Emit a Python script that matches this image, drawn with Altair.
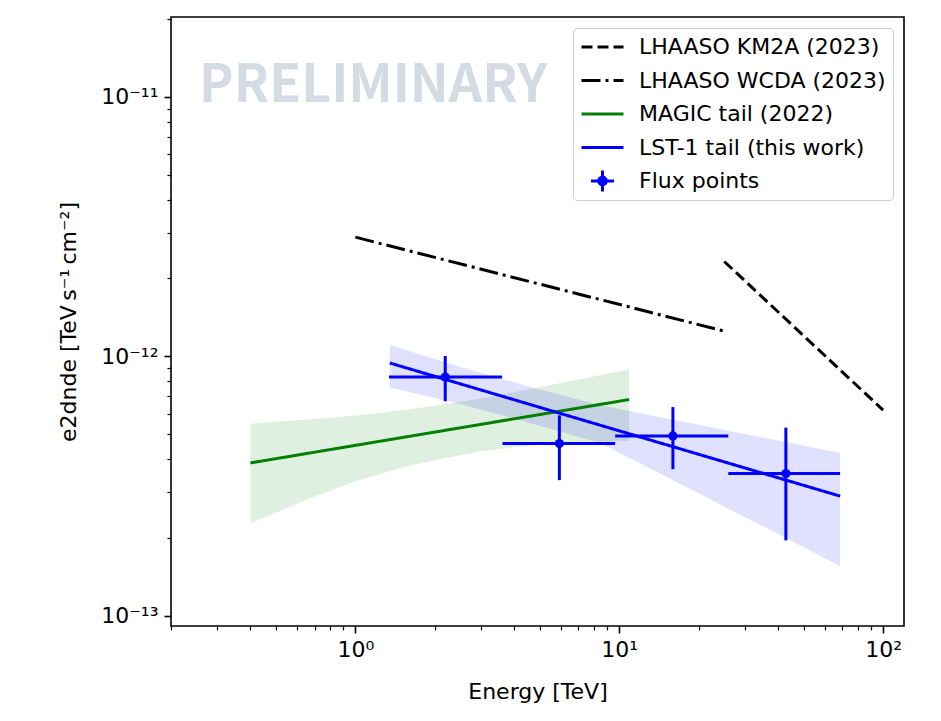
import altair as alt
import pandas as pd

# ---------------- data ----------------
series_names = ["LHAASO KM2A (2023)", "LHAASO WCDA (2023)", "MAGIC tail (2022)",
                "LST-1 tail (this work)", "Flux points"]
series_colors = ["black", "black", "green", "blue", "blue"]

km2a_E = [25.0, 100.0]
km2a_F = [2.32e-12, 6.2e-13]
wcda_E = [1.0, 25.0]
wcda_F = [2.88e-12, 1.25e-12]
magic_E = [0.4, 10.9]
magic_F = [3.88e-13, 6.81e-13]
lst_E = [1.35, 68.7]
lst_F = [9.42e-13, 2.89e-13]

magic_band_E = [0.4, 0.7, 1.0, 1.5, 2.0, 3.0, 4.5, 7.0, 10.9]
magic_band_hi = [5.50e-13, 5.73e-13, 5.91e-13, 6.20e-13, 6.45e-13, 6.88e-13, 7.44e-13, 8.13e-13, 8.89e-13]
magic_band_lo = [2.27e-13, 2.88e-13, 3.30e-13, 3.72e-13, 3.97e-13, 4.30e-13, 4.52e-13, 4.67e-13, 4.71e-13]

lst_band_E = [1.35, 2.5, 4.5, 8.5, 15.0, 27.0, 45.0, 68.7]
lst_band_hi = [1.105e-12, 9.10e-13, 7.66e-13, 6.47e-13, 5.77e-13, 5.12e-13, 4.62e-13, 4.24e-13]
lst_band_lo = [7.58e-13, 6.55e-13, 5.56e-13, 4.62e-13, 3.44e-13, 2.53e-13, 1.94e-13, 1.55e-13]

pts_E = [2.19, 5.93, 15.97, 42.8]
pts_E_lo = [1.34, 3.61, 9.65, 25.9]
pts_E_hi = [3.60, 9.65, 25.9, 68.7]
pts_F = [8.32e-13, 4.61e-13, 4.93e-13, 3.53e-13]
pts_F_lo = [6.71e-13, 3.33e-13, 3.67e-13, 1.95e-13]
pts_F_hi = [1.003e-12, 5.92e-13, 6.37e-13, 5.31e-13]

# axis ticks
x_domain = [0.2, 120]
y_domain = [9.12e-14, 2.034e-11]
x_major = [1, 10, 100]
x_major_labels = ["10⁰", "10¹", "10²"]
x_minor = [0.2, 0.3, 0.4, 0.5, 0.6, 0.7, 0.8, 0.9,
           2, 3, 4, 5, 6, 7, 8, 9,
           20, 30, 40, 50, 60, 70, 80, 90]
y_major = [1e-13, 1e-12, 1e-11]
y_major_labels = ["10⁻¹³", "10⁻¹²", "10⁻¹¹"]
y_minor = [2e-13, 3e-13, 4e-13, 5e-13, 6e-13, 7e-13, 8e-13, 9e-13,
           2e-12, 3e-12, 4e-12, 5e-12, 6e-12, 7e-12, 8e-12, 9e-12,
           2e-11]

watermark = "PRELIMINARY"
x_title = "Energy [TeV]"
y_title = "e2dnde [TeV\u2009s⁻¹\u2009cm⁻²]"

# ---------------- tables ----------------
lines_df = pd.DataFrame({
    "series": [series_names[0]] * len(km2a_E) + [series_names[1]] * len(wcda_E)
              + [series_names[2]] * len(magic_E) + [series_names[3]] * len(lst_E),
    "E": km2a_E + wcda_E + magic_E + lst_E,
    "F": km2a_F + wcda_F + magic_F + lst_F,
})
magic_band_df = pd.DataFrame({"E": magic_band_E, "lo": magic_band_lo, "hi": magic_band_hi})
lst_band_df = pd.DataFrame({"E": lst_band_E, "lo": lst_band_lo, "hi": lst_band_hi})
pts_df = pd.DataFrame({"E": pts_E, "Elo": pts_E_lo, "Ehi": pts_E_hi,
                       "F": pts_F, "Flo": pts_F_lo, "Fhi": pts_F_hi})


def label_expr(values, labels):
    expr = "''"
    for v, l in reversed(list(zip(values, labels))):
        expr = f"datum.value == {v!r} ? '{l}' : ({expr})"
    return expr


def major_test(values):
    return "indexof([" + ",".join(repr(v) for v in values) + "], datum.value) >= 0"


x_scale = alt.Scale(type="log", domain=x_domain, nice=False)
y_scale = alt.Scale(type="log", domain=y_domain, nice=False)

x_axis = alt.Axis(
    values=sorted(x_major + x_minor), title=x_title,
    labelExpr=label_expr(x_major, x_major_labels),
    tickSize={"condition": {"test": major_test(x_major), "value": 7}, "value": 4},
    tickWidth={"condition": {"test": major_test(x_major), "value": 1.6}, "value": 1.2},
    labelOverlap=False, labelFlush=False, labelBound=False, titlePadding=21,
)
y_axis = alt.Axis(
    values=sorted(y_major + y_minor), title=y_title,
    labelExpr=label_expr(y_major, y_major_labels),
    tickSize={"condition": {"test": major_test(y_major), "value": 7}, "value": 4},
    tickWidth={"condition": {"test": major_test(y_major), "value": 1.6}, "value": 1.2},
    labelOverlap=False, labelFlush=False, labelBound=False, titlePadding=20,
)

X = lambda f: alt.X(f, type="quantitative", scale=x_scale, axis=x_axis)
Y = lambda f: alt.Y(f, type="quantitative", scale=y_scale, axis=y_axis)

magic_band = alt.Chart(magic_band_df).mark_area(color="green", opacity=0.12).encode(
    x=X("E"), y=Y("lo"), y2="hi")
lst_band = alt.Chart(lst_band_df).mark_area(color="blue", opacity=0.12).encode(
    x=X("E"), y=Y("lo"), y2="hi")

flux_path = ("M-0.55,0H0.55M0,-0.5V0.5"
             "M-0.18,0A0.18,0.18,0,1,0,0.18,0A0.18,0.18,0,1,0,-0.18,0Z")
is_flux = "datum.value === 'Flux points'"

legend = alt.Legend(
    title=None, orient="top-right", offset=11, padding=7, cornerRadius=4,
    strokeColor="#cccccc", fillColor="rgba(255,255,255,0.8)",
    labelFont="DejaVu Sans", labelFontSize=22, labelColor="black", labelLimit=500,
    symbolSize=1764, symbolStrokeWidth=3, labelOffset=14,
    clipHeight=24, rowPadding=9.5,
    symbolType={"expr": f"{is_flux} ? '{flux_path}' : 'stroke'"},
    symbolDash={"expr": "datum.value === 'LHAASO KM2A (2023)' ? [11, 5] : "
                        "(datum.value === 'LHAASO WCDA (2023)' ? [19, 5, 3, 5] : [1, 0])"},
    symbolFillColor={"expr": f"{is_flux} ? 'blue' : 'transparent'"},
)

lines = alt.Chart(lines_df).mark_line(strokeWidth=3).encode(
    x=X("E"), y=Y("F"),
    color=alt.Color("series:N", scale=alt.Scale(domain=series_names, range=series_colors),
                    legend=legend),
    strokeDash=alt.StrokeDash("series:N", scale=alt.Scale(
        domain=series_names[:4], range=[[11, 5], [19, 5, 3, 5], [1, 0], [1, 0]]), legend=None),
)

xerr = alt.Chart(pts_df).mark_rule(color="blue", strokeWidth=3).encode(
    x=X("Elo"), x2="Ehi", y=Y("F"))
yerr = alt.Chart(pts_df).mark_rule(color="blue", strokeWidth=3).encode(
    x=X("E"), y=Y("Flo"), y2="Fhi")
points = alt.Chart(pts_df).mark_circle(color="blue", size=85, opacity=1).encode(
    x=X("E"), y=Y("F"))

wm = alt.Chart(pd.DataFrame({"t": [watermark]})).mark_text(
    font="Noto Sans CJK JP, Liberation Sans",
    fontWeight="bold", fontSize=52, color="#d5dbe2", align="left", baseline="alphabetic",
).encode(text="t:N", x=alt.value(28), y=alt.value(85))

chart = alt.layer(magic_band, lst_band, lines, xerr, yerr, points, wm).properties(
    width=733, height=609,
    padding={"left": 171, "top": 17, "right": 37, "bottom": 95},
    autosize=alt.AutoSizeParams(type="none"),
    background="white",
).configure_view(stroke="black", strokeWidth=1.6).configure_axis(
    grid=False, domain=False, labelFont="DejaVu Sans", labelFontSize=22, labelColor="black",
    labelPadding=6, titleFont="DejaVu Sans", titleFontSize=22, titleFontWeight="normal",
    titleColor="black", tickColor="black",
)

chart.save("out.html", embed_options={"renderer": "svg", "actions": False})
